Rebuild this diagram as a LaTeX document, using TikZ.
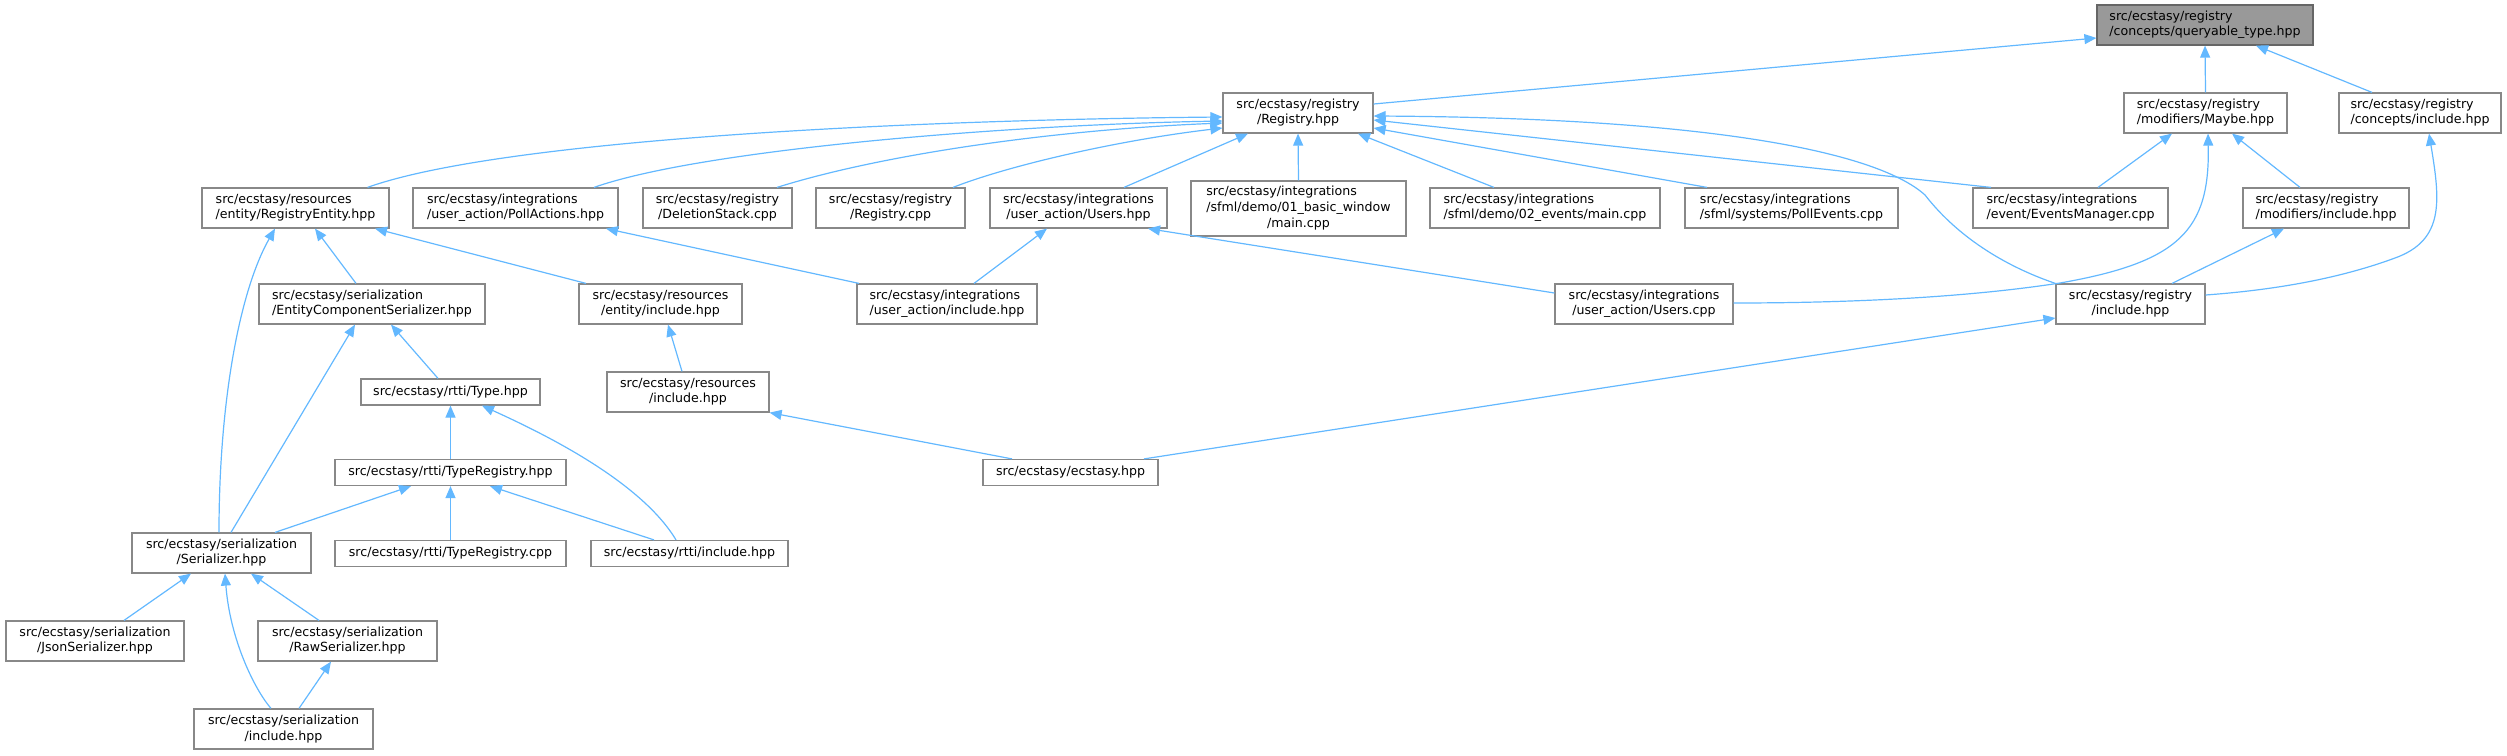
\documentclass[tikz,border=0pt]{standalone}
\usepackage{fontspec}
\setmainfont{DejaVu Sans}
\usetikzlibrary{arrows.meta}
\definecolor{edgec}{HTML}{63B8FF}
\definecolor{boxc}{HTML}{888888}
\definecolor{rootfill}{HTML}{999999}
\definecolor{rootdraw}{HTML}{666666}
\newcommand\lbtwo[2]{\begin{tabular}{@{}l@{}}#1\\\multicolumn{1}{@{}c@{}}{#2}\end{tabular}}
\newcommand\lbthree[3]{\begin{tabular}{@{}l@{}}#1\\#2\\\multicolumn{1}{@{}c@{}}{#3}\end{tabular}}
\tikzset{
  box/.style={draw=boxc, fill=white, line width=1.2pt, inner sep=0pt, text=black,
    font=\fontsize{12.6}{15.7}\selectfont, minimum height=40pt},
  onebox/.style={box, minimum height=26pt},
  rootbox/.style={box, fill=rootfill, draw=rootdraw},
  dep/.style={draw=edgec, line width=1.2pt, {Triangle[length=12pt,width=10pt]}-},
}
\begin{document}
\begin{tikzpicture}[x=1pt,y=-1pt]
\useasboundingbox (0,0) rectangle (2507,755);
% nodes
\node[rootbox, minimum width=216pt] (qt) at (2205,25) {\lbtwo{src/ecstasy/registry}{/concepts/queryable\_type.hpp}};
\node[box, minimum width=150pt] (reg) at (1298,113) {\lbtwo{src/ecstasy/registry}{/Registry.hpp}};
\node[box, minimum width=163pt] (maybe) at (2205.5,113) {\lbtwo{src/ecstasy/registry}{/modifiers/Maybe.hpp}};
\node[box, minimum width=162pt] (cinc) at (2420,113) {\lbtwo{src/ecstasy/registry}{/concepts/include.hpp}};
\node[box, minimum width=187pt] (rent) at (295.5,208) {\lbtwo{src/ecstasy/resources}{/entity/RegistryEntity.hpp}};
\node[box, minimum width=205pt] (pact) at (515.5,208) {\lbtwo{src/ecstasy/integrations}{/user\_action/PollActions.hpp}};
\node[box, minimum width=149pt] (dels) at (717.5,208) {\lbtwo{src/ecstasy/registry}{/DeletionStack.cpp}};
\node[box, minimum width=149pt] (regcpp) at (890.5,208) {\lbtwo{src/ecstasy/registry}{/Registry.cpp}};
\node[box, minimum width=177pt] (ushpp) at (1078.5,208) {\lbtwo{src/ecstasy/integrations}{/user\_action/Users.hpp}};
\node[box, minimum width=215pt, minimum height=55pt] (basic) at (1298.5,208.5) {\lbthree{src/ecstasy/integrations}{/sfml/demo/01\_basic\_window}{/main.cpp}};
\node[box, minimum width=230pt] (ev02) at (1545,208) {\lbtwo{src/ecstasy/integrations}{/sfml/demo/02\_events/main.cpp}};
\node[box, minimum width=213pt] (pollev) at (1791.5,208) {\lbtwo{src/ecstasy/integrations}{/sfml/systems/PollEvents.cpp}};
\node[box, minimum width=195pt] (evm) at (2070.5,208) {\lbtwo{src/ecstasy/integrations}{/event/EventsManager.cpp}};
\node[box, minimum width=166pt] (modinc) at (2326,208) {\lbtwo{src/ecstasy/registry}{/modifiers/include.hpp}};
\node[box, minimum width=226pt] (ecs) at (372,304) {\lbtwo{src/ecstasy/serialization}{/EntityComponentSerializer.hpp}};
\node[box, minimum width=163pt] (einc) at (660.5,304) {\lbtwo{src/ecstasy/resources}{/entity/include.hpp}};
\node[box, minimum width=180pt] (uainc) at (947,304) {\lbtwo{src/ecstasy/integrations}{/user\_action/include.hpp}};
\node[box, minimum width=178pt] (uscpp) at (1644,304) {\lbtwo{src/ecstasy/integrations}{/user\_action/Users.cpp}};
\node[box, minimum width=149pt] (rinc) at (2130.5,304) {\lbtwo{src/ecstasy/registry}{/include.hpp}};
\node[onebox, minimum width=179pt] (type) at (450.5,392) {src/ecstasy/rtti/Type.hpp};
\node[box, minimum width=162pt] (resinc) at (688,392) {\lbtwo{src/ecstasy/resources}{/include.hpp}};
\node[onebox, minimum width=231pt] (treg) at (450.5,472.5) {src/ecstasy/rtti/TypeRegistry.hpp};
\node[onebox, minimum width=175pt] (ecstasy) at (1070.5,472.5) {src/ecstasy/ecstasy.hpp};
\node[box, minimum width=179pt] (ser) at (221.5,553) {\lbtwo{src/ecstasy/serialization}{/Serializer.hpp}};
\node[onebox, minimum width=231pt] (tregcpp) at (450.5,553.5) {src/ecstasy/rtti/TypeRegistry.cpp};
\node[onebox, minimum width=197pt] (rttiinc) at (689.5,553.5) {src/ecstasy/rtti/include.hpp};
\node[box, minimum width=178pt] (json) at (95,641) {\lbtwo{src/ecstasy/serialization}{/JsonSerializer.hpp}};
\node[box, minimum width=179pt] (raw) at (347.5,641) {\lbtwo{src/ecstasy/serialization}{/RawSerializer.hpp}};
\node[box, minimum width=179pt] (sinc) at (283.5,729) {\lbtwo{src/ecstasy/serialization}{/include.hpp}};
% edges (tip at the included file)
\draw[dep] ([yshift=-13pt]qt.west) -- ([yshift=9pt]reg.east);
\draw[dep] (qt.south) -- (maybe.north);
\draw[dep] ([xshift=51pt]qt.south) -- ([xshift=-48pt]cinc.north);
\draw[dep] ([yshift=-4pt]reg.west) .. controls (900,120) and (500,140) .. ([xshift=72pt]rent.north);
\draw[dep] ([yshift=-8pt]reg.west) .. controls (1000,125) and (700,150) .. ([xshift=78.5pt]pact.north);
\draw[dep] ([yshift=-10pt]reg.west) .. controls (1050,130) and (880,155) .. ([xshift=59.5pt]dels.north);
\draw[dep] ([yshift=-15pt]reg.west) .. controls (1120,140) and (1010,165) .. ([xshift=62.5pt]regcpp.north);
\draw[dep] ([xshift=-50pt]reg.south) -- ([xshift=45.5pt]ushpp.north);
\draw[dep] (reg.south) -- (basic.north);
\draw[dep] ([xshift=60pt]reg.south) -- ([xshift=-51pt]ev02.north);
\draw[dep] ([yshift=-15pt]reg.east) -- ([xshift=-84.5pt]pollev.north);
\draw[dep] ([yshift=-7pt]reg.east) -- ([xshift=-79.5pt]evm.north);
\draw[dep] ([yshift=-3pt]reg.east) .. controls (1700,118) and (1875,150) .. (1925,195)
  .. controls (1960,240) and (2010,268) .. (rinc.north west);
\draw[dep] ([xshift=-33.5pt]maybe.south) -- ([xshift=27.5pt]evm.north);
\draw[dep] ([xshift=2.5pt]maybe.south) .. controls (2210,230) and (2180,262) .. (2060,283)
  .. controls (1950,300) and (1820,303) .. ([yshift=1pt]uscpp.east);
\draw[dep] ([xshift=26.5pt]maybe.south) -- ([xshift=-26pt]modinc.north);
\draw[dep] ([xshift=9pt]cinc.south) .. controls (2440,200) and (2445,240) .. (2395,258)
  .. controls (2330,282) and (2260,291) .. ([yshift=9pt]rinc.east);
\draw[dep] ([xshift=-42pt]modinc.south) -- ([xshift=41.5pt]rinc.north);
\draw[dep] ([xshift=-20.5pt]rent.south) .. controls (240,290) and (219,400) .. ([xshift=-2.5pt]ser.north);
\draw[dep] ([xshift=19.5pt]rent.south) -- ([xshift=-16pt]ecs.north);
\draw[dep] ([xshift=79.5pt]rent.south) -- ([xshift=-74.5pt]einc.north);
\draw[dep] ([xshift=90.5pt]pact.south) -- ([xshift=-88pt]uainc.north);
\draw[dep] ([xshift=-31.5pt]ushpp.south) -- ([xshift=27pt]uainc.north);
\draw[dep] ([xshift=69.5pt]ushpp.south) -- ([yshift=11pt]uscpp.west);
\draw[dep] ([xshift=7.5pt]einc.south) -- ([xshift=-6pt]resinc.north);
\draw[dep] (resinc.south east) -- ([xshift=-58.5pt]ecstasy.north);
\draw[dep] ([yshift=-14pt]rinc.west) -- ([xshift=73.5pt]ecstasy.north);
\draw[dep] ([xshift=19pt]ecs.south) -- ([xshift=-12.5pt]type.north);
\draw[dep] ([xshift=-17pt]ecs.south) -- ([xshift=9.5pt]ser.north);
\draw[dep] (type.south) -- (treg.north);
\draw[dep] ([xshift=31.5pt]type.south) .. controls (540,432) and (640,480) .. ([xshift=-13.5pt]rttiinc.north);
\draw[dep] ([xshift=-39.5pt]treg.south) -- ([xshift=53.5pt]ser.north);
\draw[dep] (treg.south) -- (tregcpp.north);
\draw[dep] ([xshift=39.5pt]treg.south) -- ([xshift=-35.5pt]rttiinc.north);
\draw[dep] ([xshift=-30.5pt]ser.south) -- ([xshift=29pt]json.north);
\draw[dep] ([xshift=29.5pt]ser.south) -- ([xshift=-28.5pt]raw.north);
\draw[dep] ([xshift=3.5pt]ser.south) .. controls (230,640) and (255,690) .. ([xshift=-12.5pt]sinc.north);
\draw[dep] ([xshift=-16.5pt]raw.south) -- ([xshift=15.5pt]sinc.north);
\end{tikzpicture}
\end{document}
